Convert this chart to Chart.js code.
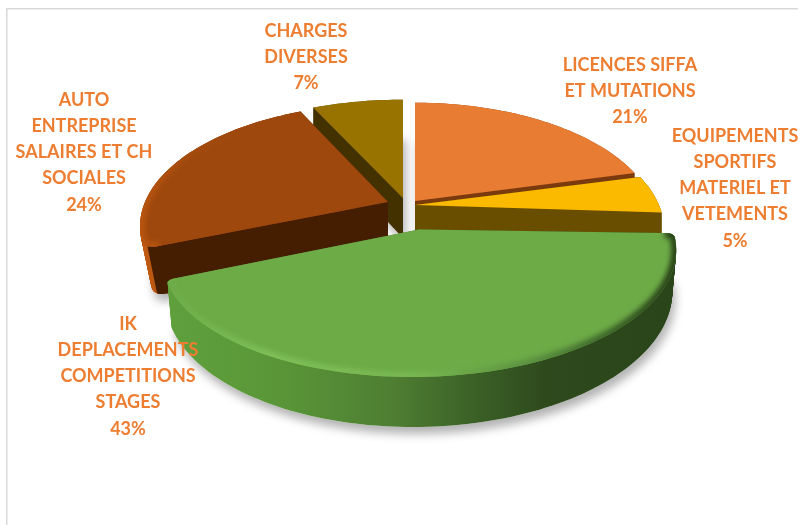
<!DOCTYPE html>
<html><head><meta charset="utf-8">
<style>html,body{margin:0;padding:0;background:#fff}canvas{display:block}</style>
<script src="https://cdn.jsdelivr.net/npm/chart.js@4"></script>
</head><body><canvas id="c" width="798" height="525"></canvas>
<script>
const categories = ["LICENCES SIFFA ET MUTATIONS","EQUIPEMENTS SPORTIFS MATERIEL ET VETEMENTS","IK DEPLACEMENTS COMPETITIONS STAGES","AUTO ENTREPRISE SALAIRES ET CH SOCIALES","CHARGES DIVERSES"];
const values = [21,5,43,24,7];
const topColors = ["#E97C33","#FBB900","#6DAB47","#9E480E","#997300"];
const labelLines = [
  ["LICENCES SIFFA","ET MUTATIONS","21%"],
  ["EQUIPEMENTS","SPORTIFS","MATERIEL ET","VETEMENTS","5%"],
  ["IK","DEPLACEMENTS","COMPETITIONS","STAGES","43%"],
  ["AUTO","ENTREPRISE","SALAIRES ET CH","SOCIALES","24%"],
  ["CHARGES","DIVERSES","7%"]
];
// presentation of each slice (3D projection look), separate from the data
const look = [
 {ax:415,ay:201,f:238,tilt:0,depth:40,wall:"#7A3A0E",rim:["#8A4212","#8A4212"],shrink:1,corner:0,endRound:false,bevel:null,lx:630,ly:65},
 {ax:415,ay:205,f:244,tilt:0,depth:40,wall:"#6A4E00",rim:["#7A5C00","#7A5C00"],shrink:1,corner:0,endRound:false,bevel:null,lx:735,ly:136},
 {ax:419,ay:229.5,f:252,tilt:-4,depth:40,wall:null,rim:null,shrink:.985,corner:.035,endRound:true,
  bevel:[[0,"#6DAB47"],[.2,"#7FBF58"],[.5,"#78B751"],[.72,"#5A9040"],[.9,"#3A5F26"],[1,"#2A4519"]],lx:128,ly:324},
 {ax:388,ay:202,f:243,tilt:0,depth:44,wall:"#451E02",rim:["#C05A12","#8A3C08"],shrink:.96,corner:.06,endRound:false,
  bevel:[[0,"#B8540F"],[.08,"#A54C0E"],[.2,"#9E480E"],[1,"#9E480E"]],lx:84,ly:100},
 {ax:403,ay:198,f:249,tilt:0,depth:40,wall:"#433200",rim:["#6E5200","#6E5200"],shrink:1,corner:0,endRound:false,bevel:null,lx:306,ly:31}
];
const paintOrder = [4,3,0,1,2];
const G = 118, K = 0.2;

function rimPoints(arc, L){
  const pts=[]; const n=Math.max(12,Math.round((arc.endAngle-arc.startAngle)*40));
  for(let i=0;i<=n;i++){
    const a=arc.startAngle+(arc.endAngle-arc.startAngle)*i/n;
    pts.push([Math.cos(a),Math.sin(a)]);
  }
  if(L.corner){ // rounded rim corners
    const c=L.corner, round=(a,dir)=>{
      const ctrl=[Math.cos(a),Math.sin(a)];
      const p0=[ctrl[0]*(1-c),ctrl[1]*(1-c)];
      const a2=a+dir*c; const p2=[Math.cos(a2),Math.sin(a2)];
      const out=[];
      for(let t=0;t<=1.001;t+=.125){
        out.push([(1-t)*(1-t)*p0[0]+2*t*(1-t)*ctrl[0]+t*t*p2[0],(1-t)*(1-t)*p0[1]+2*t*(1-t)*ctrl[1]+t*t*p2[1]]);
      }
      return out;
    };
    const s=round(arc.startAngle,1);
    const e=L.endRound?round(arc.endAngle,-1).reverse():[pts[pts.length-1]];
    const endLimit=L.endRound?arc.endAngle-c:arc.endAngle-1e-6;
    const mid=pts.filter(p=>{let a=Math.atan2(p[1],p[0]);while(a<arc.startAngle)a+=2*Math.PI;
      return a>arc.startAngle+c&&a<endLimit;});
    return s.concat(mid,e);
  }
  return pts;
}
function proj(L,p,d){
  const w=1-K*p[1];
  let x=L.f*p[0]/w, y=G*p[1]/w+L.tilt*p[0];
  if(d>0){ x*=1-(1-L.shrink)*d; y+=d*L.depth/w; }
  return [L.ax+x,L.ay+y];
}
function poly(ctx,pts){ctx.beginPath();pts.forEach((p,i)=>i?ctx.lineTo(p[0],p[1]):ctx.moveTo(p[0],p[1]));ctx.closePath();}
function grad(ctx,L,stops){
  const g=ctx.createLinearGradient(L.ax-L.f,0,L.ax+L.f,0);
  stops.forEach(s=>g.addColorStop(s[0],s[1]));return g;
}

const pie3d = {
  id:'pie3d',
  beforeDatasetsDraw(chart){
    const ctx=chart.ctx, arcs=chart.getDatasetMeta(0).data;
    ctx.save();
    // frame
    ctx.fillStyle="#D9D9D9";
    ctx.fillRect(6,8,792,1.5); ctx.fillRect(6,8,1.5,517);
    const shapes=arcs.map((arc,i)=>{
      const L=look[i], rim=rimPoints(arc,L);
      return {L,arc,i,rim,
        top:rim.map(p=>proj(L,p,0)),
        bot:rim.map(p=>proj(L,p,1)),
        apexT:proj(L,[0,0],0),apexB:proj(L,[0,0],1)};
    });
    // soft ground shadows
    ctx.save();
    ctx.shadowColor="rgba(0,0,0,.30)";ctx.shadowBlur=10;ctx.shadowOffsetX=3;ctx.shadowOffsetY=7;
    ctx.fillStyle="#fff";
    paintOrder.forEach(i=>{const s=shapes[i];
      poly(ctx,[s.apexB].concat(s.bot)); ctx.fill();});
    ctx.restore();
    paintOrder.forEach(i=>{
      const s=shapes[i],L=s.L;
      // outer rim: sweep the outline downward
      const stops=L.rim?[[0,L.rim[0]],[.2,L.rim[1]],[1,L.rim[1]]]
        :[[0,"#5FA03D"],[.22,"#5A9638"],[.45,"#4E7E32"],[.62,"#3A5F26"],[.75,"#2E4A1D"],[1,"#2A4519"]];
      ctx.fillStyle=grad(ctx,L,stops);
      const steps=44;
      for(let k=steps;k>=0;k--){
        const d=k/steps;
        poly(ctx,[proj(L,[0,0],d)].concat(s.rim.map(p=>proj(L,p,d))));ctx.fill();
      }
      // radial walls, reaching into the rounded corners
      if(L.wall){
        ctx.fillStyle=L.wall;
        const n=s.top.length-1, a=L.corner?4:0, b=L.corner&&L.endRound?n-4:n;
        poly(ctx,[s.apexT].concat(s.top.slice(0,a+1),s.bot.slice(0,a+1).reverse(),[s.apexB]));ctx.fill();
        poly(ctx,[s.apexT,s.top[b],s.bot[b],s.apexB]);ctx.fill();
      }
      // top face
      ctx.fillStyle=arcs[i].options.backgroundColor;
      const face=[s.apexT].concat(s.top);
      poly(ctx,face);ctx.fill();
      // bevel along the rim
      if(L.bevel){
        ctx.save();poly(ctx,face);ctx.clip();
        ctx.filter="blur(2.5px)";
        ctx.strokeStyle=grad(ctx,L,L.bevel);ctx.lineWidth=10;
        ctx.beginPath();s.top.forEach((p,k)=>k?ctx.lineTo(p[0],p[1]):ctx.moveTo(p[0],p[1]));ctx.stroke();
        ctx.restore();
      }
    });
    ctx.restore();
    return false;
  },
  afterDraw(chart){
    const ctx=chart.ctx;
    ctx.save();
    ctx.font="bold 18px Lato";ctx.fillStyle="#ED7D31";ctx.textAlign="center";ctx.textBaseline="middle";
    labelLines.forEach((lines,i)=>lines.forEach((t,k)=>ctx.fillText(t,look[i].lx,look[i].ly+k*26.2)));
    ctx.restore();
  }
};
new Chart(document.getElementById('c'),{
  type:'pie',
  data:{labels:categories,datasets:[{data:values,backgroundColor:topColors,borderWidth:0}]},
  options:{responsive:false,animation:false,plugins:{legend:{display:false},tooltip:{enabled:false}}},
  plugins:[pie3d]
});
</script></body></html>
